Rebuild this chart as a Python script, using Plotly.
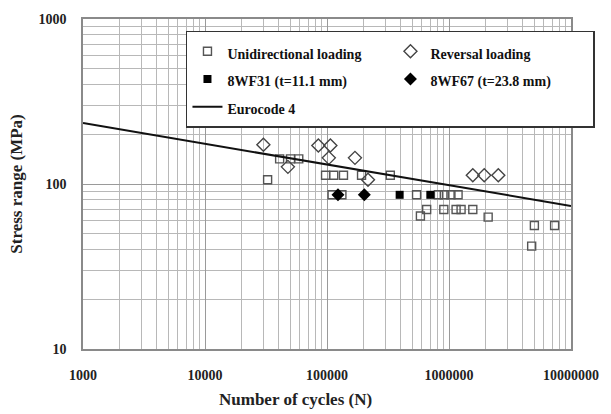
import plotly.graph_objects as go

# ---- data ----
uni_N = [32600, 40900, 50200, 58700, 97300, 113500, 136500, 191900, 330400,
         110100, 132500, 542000, 819000, 915000, 1037000, 1187000,
         583000, 656000, 907000, 1143000, 1256000, 1567000, 2094000,
         5010000, 7340000, 4760000]
uni_S = [106, 142, 142, 142, 113, 113, 113, 113, 113,
         86, 86, 86, 86, 86, 86, 86,
         64, 70, 70, 70, 70, 70, 63,
         56, 56, 42]

rev_N = [30100, 47800, 84900, 106600, 103500, 169500, 216800, 1567000, 1945000, 2535000]
rev_S = [173, 127, 171, 171, 144, 144, 106, 113, 113, 113]

wf31_N = [394000, 703000]
wf31_S = [86, 86]

wf67_N = [123000, 202300]
wf67_S = [86, 86]

ec4_N = [1000, 10000000]
ec4_S = [234, 73.6]

names = ["Unidirectional loading", "Reversal loading",
         "8WF31 (t=11.1 mm)", "8WF67 (t=23.8 mm)", "Eurocode 4"]

x_tickvals = [1000, 10000, 100000, 1000000, 10000000]
x_ticktext = ["1000", "10000", "100000", "1000000", "10000000"]
y_tickvals = [10, 100, 1000]
y_ticktext = ["10", "100", "1000"]

FONT = "Liberation Serif, Times New Roman, serif"


def lg(t):
    return '<span style="font-size:14px">' + t + '</span>'


fig = go.Figure()
fig.add_trace(go.Scatter(x=uni_N, y=uni_S, mode="markers", name=lg(names[0]),
                         marker=dict(symbol="square-open", size=8, color="#555555",
                                     line=dict(width=1.4, color="#555555"))))
fig.add_trace(go.Scatter(x=rev_N, y=rev_S, mode="markers", name=lg(names[1]),
                         marker=dict(symbol="diamond-open", size=10, color="#444444",
                                     line=dict(width=1.4, color="#444444"))))
fig.add_trace(go.Scatter(x=wf31_N, y=wf31_S, mode="markers", name=lg(names[2]),
                         marker=dict(symbol="square", size=8, color="#000000")))
fig.add_trace(go.Scatter(x=wf67_N, y=wf67_S, mode="markers", name=lg(names[3]),
                         marker=dict(symbol="diamond", size=10, color="#000000")))
fig.add_trace(go.Scatter(x=ec4_N, y=ec4_S, mode="lines", name=lg(names[4]),
                         line=dict(color="#111111", width=2)))

axis_common = dict(
    type="log", showline=True, mirror=True, linecolor="#8a8a8a", linewidth=1.5,
    showgrid=True, gridcolor="#9a9a9a", gridwidth=1.2, ticks="", zeroline=False,
    tickfont=dict(family=FONT, size=14, color="#222222", weight="bold"),
    minor=dict(dtick="D1", showgrid=True, gridcolor="#b8b8b8", gridwidth=1, ticks=""),
)

fig.update_xaxes(range=[3, 7], tickvals=x_tickvals, ticktext=x_ticktext,
                 ticklabelstandoff=12, **axis_common)
fig.update_yaxes(range=[1, 3], tickvals=y_tickvals, ticktext=y_ticktext,
                 ticklabelstandoff=12,
                 title=dict(text="Stress range (MPa)", standoff=12,
                            font=dict(family=FONT, size=17, color="#222222", weight="bold")),
                 **axis_common)

fig.add_annotation(text="Number of cycles (N)", xref="paper", yref="paper",
                   x=0.435, y=-0.152, showarrow=False, xanchor="center", yanchor="middle",
                   font=dict(family=FONT, size=17, color="#222222", weight="bold"))

fig.update_layout(
    width=611, height=414,
    margin=dict(l=83, r=31, t=14, b=65),
    paper_bgcolor="white", plot_bgcolor="white",
    showlegend=True,
    legend=dict(orientation="h", x=0.211, y=0.964, xanchor="left", yanchor="top",
                bgcolor="white", bordercolor="#333333", borderwidth=1.5,
                entrywidth=158, entrywidthmode="pixels",
                font=dict(family=FONT, size=19, color="#111111", weight="bold"),
                itemwidth=30),
)

fig.write_html("out.html")
